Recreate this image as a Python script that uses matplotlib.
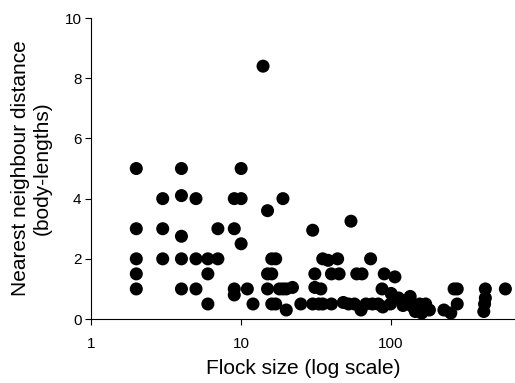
import matplotlib
matplotlib.use("Agg")
import matplotlib.pyplot as plt
from matplotlib.ticker import FixedLocator, NullLocator, FixedFormatter

plt.rcParams['font.family'] = ['Liberation Sans', 'DejaVu Sans']

flock_size = [2, 2, 2, 2, 2,
              3, 3, 3,
              4, 4, 4, 4, 4,
              5, 5, 5,
              6, 6, 6,
              7, 7,
              9, 9, 9, 9,
              10, 10, 10,
              11, 12, 14,
              15, 15, 15,
              16, 16, 16,
              17, 17,
              19, 18, 19, 20, 22, 20,
              25,
              30, 30,
              31, 31, 34,
              33, 35,
              35, 38, 44,
              40, 45, 40,
              48, 52, 57,
              54,
              59, 64,
              63, 68,
              73,
              75, 82, 88,
              90, 87, 100, 106, 99, 112,
              134, 130, 140, 150, 160, 170, 180, 155, 145, 120,
              225, 250, 263, 276, 276,
              425, 425, 420, 415,
              578]
nn_distance = [5, 3, 2, 1.5, 1,
               4, 3, 2,
               5, 4.1, 2.75, 2, 1,
               4, 2, 1,
               2, 1.5, 0.5,
               3, 2,
               4, 3, 1, 0.8,
               5, 4, 2.5,
               1, 0.5, 8.4,
               3.6, 1.5, 1,
               2, 1.5, 0.5,
               2, 0.5,
               4, 1, 1, 1, 1.05, 0.3,
               0.5,
               2.95, 0.5,
               1.5, 1.05, 1,
               0.5, 0.5,
               2, 1.95, 2,
               1.5, 1.5, 0.5,
               0.55, 0.5, 0.5,
               3.25,
               1.5, 1.5,
               0.3, 0.5,
               2,
               0.5, 0.5, 0.4,
               1.5, 1, 0.85, 1.4, 0.5, 0.7,
               0.75, 0.5, 0.4, 0.3, 0.2, 0.5, 0.3, 0.5, 0.25, 0.45,
               0.3, 0.2, 1, 1, 0.5,
               1, 0.7, 0.5, 0.25,
               1]

x_ticks = [1, 10, 100]
x_tick_labels = ["1", "10", "100"]
y_ticks = [0, 2, 4, 6, 8, 10]

fig = plt.figure(figsize=(5.15, 3.83), dpi=100)
ax = fig.add_axes([0.177, 0.167, 0.823, 0.786])
ax.scatter(flock_size, nn_distance, s=88, color='black', edgecolors='none', zorder=3, clip_on=False)
ax.set_xscale('log')
ax.set_xlim(1, 670)
ax.set_ylim(0, 10)
ax.xaxis.set_major_locator(FixedLocator(x_ticks))
ax.xaxis.set_major_formatter(FixedFormatter(x_tick_labels))
ax.xaxis.set_minor_locator(NullLocator())
ax.set_yticks(y_ticks)
ax.spines['top'].set_visible(False)
ax.spines['right'].set_visible(False)
ax.tick_params(axis='both', direction='out', length=4, width=0.8, labelsize=11)
ax.tick_params(axis='x', pad=9)
ax.tick_params(axis='y', pad=3)
ax.set_xlabel("Flock size (log scale)", fontsize=15, labelpad=6)
ax.set_ylabel("Nearest neighbour distance\n(body-lengths)", fontsize=15, labelpad=9)
fig.savefig("out.png", dpi=100)
